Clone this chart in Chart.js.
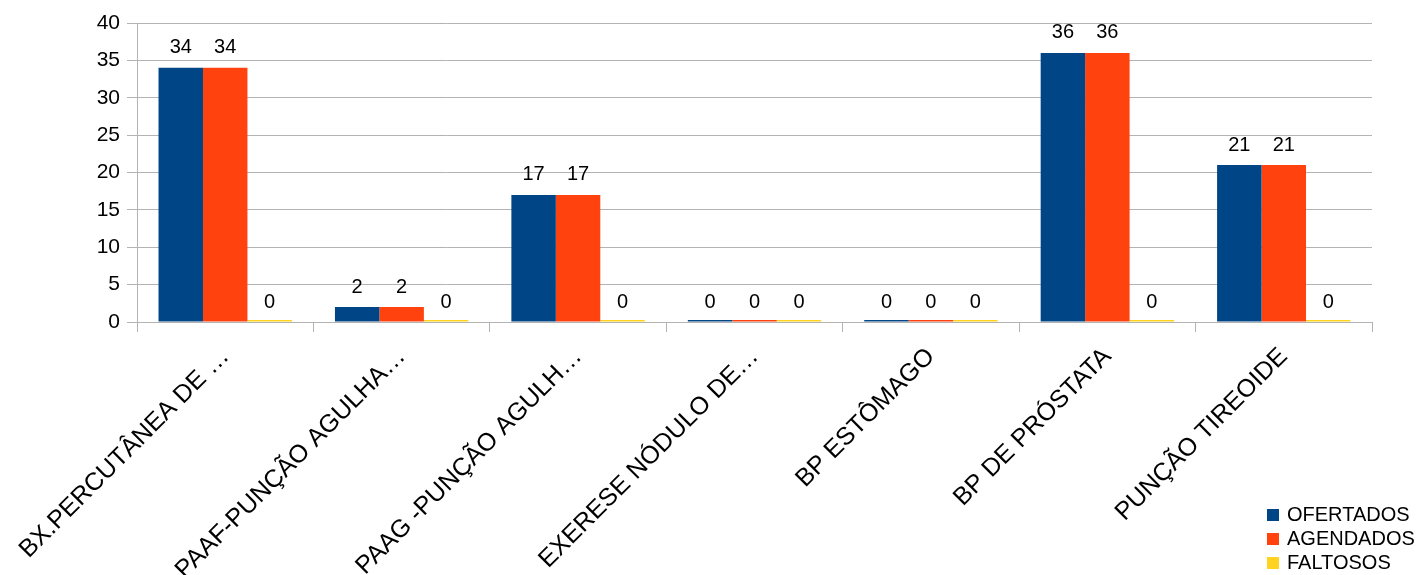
<!DOCTYPE html>
<html>
<head>
<meta charset="utf-8">
<script src="https://cdn.jsdelivr.net/npm/chart.js@4/dist/chart.umd.min.js"></script>
<style>
  html, body { margin: 0; padding: 0; background: #fff; }
  #wrap { position: relative; width: 1420px; height: 575px; }
  #legend {
    position: absolute; left: 1267px; top: 502px;
    font-family: 'Liberation Sans', Arial, sans-serif; font-size: 20px; color: #000;
  }
  #legend div { height: 24px; line-height: 24px; white-space: nowrap; }
  #legend span { display: inline-block; width: 12px; height: 12px; margin-right: 8px; vertical-align: 0px; }
</style>
</head>
<body>
<div id="wrap">
  <canvas id="chart" width="1420" height="575"></canvas>
  <div id="legend"></div>
</div>
<script>
const categories = [
  'BX.PERCUTÂNEA DE …',
  'PAAF-PUNÇÃO AGULHA…',
  'PAAG -PUNÇÃO AGULH…',
  'EXERESE NÓDULO DE…',
  'BP ESTÔMAGO',
  'BP DE PRÓSTATA',
  'PUNÇÃO TIREOIDE'
]
const ofertados = [34, 2, 17, 0, 0, 36, 21]
const agendados = [34, 2, 17, 0, 0, 36, 21]
const faltosos = [0, 0, 0, 0, 0, 0, 0]
const seriesNames = ['OFERTADOS', 'AGENDADOS', 'FALTOSOS']
const seriesColors = ['#004586', '#ff420e', '#ffd320']

const fontFamily = "'Liberation Sans', Arial, sans-serif"
const gridGray = '#b3b3b3'

// value labels above each bar
const valueLabels = {
  id: 'valueLabels',
  afterDatasetsDraw (chart) {
    const ctx = chart.ctx
    ctx.save()
    ctx.font = '20px ' + fontFamily
    ctx.fillStyle = '#000'
    ctx.textAlign = 'center'
    ctx.textBaseline = 'bottom'
    chart.data.datasets.forEach((ds, i) => {
      chart.getDatasetMeta(i).data.forEach((bar, j) => {
        const y = chart.scales.y.getPixelForValue(ds.data[j])
        ctx.fillText(String(ds.data[j]), bar.x, y - 10)
      })
    })
    ctx.restore()
  }
}

const allSeries = [ofertados, agendados, faltosos]

const chart = new Chart(document.getElementById('chart'), {
  type: 'bar',
  data: {
    labels: categories,
    datasets: allSeries.map((values, i) => ({
      label: seriesNames[i],
      data: values,
      backgroundColor: seriesColors[i],
      borderWidth: 0,
      minBarLength: 2,
      categoryPercentage: 0.756,
      barPercentage: 1
    }))
  },
  options: {
    responsive: false,
    animation: false,
    layout: { padding: { top: 23, right: 48, left: 0, bottom: 0 } },
    plugins: {
      legend: { display: false },
      tooltip: { enabled: false }
    },
    scales: {
      x: {
        afterFit: (scale) => { scale.height = 253 },
        grid: {
          offset: true,
          color: (c) => c.index === categories.length ? gridGray : 'rgba(0,0,0,0)',
          tickColor: gridGray,
          tickLength: 10,
          lineWidth: 1
        },
        border: { color: gridGray },
        ticks: {
          autoSkip: false,
          maxRotation: 45,
          minRotation: 45,
          color: '#000',
          padding: 10,
          font: { family: fontFamily, size: 25 }
        }
      },
      y: {
        min: 0,
        max: 40,
        afterFit: (scale) => { scale.width = 137 },
        grid: { color: gridGray, tickColor: gridGray, tickLength: 10 },
        border: { color: gridGray },
        ticks: {
          stepSize: 5,
          color: '#000',
          padding: 7,
          font: { family: fontFamily, size: 21 }
        }
      }
    }
  },
  plugins: [valueLabels]
})

// legend built from the datasets
const $legend = document.getElementById('legend')
chart.data.datasets.forEach(ds => {
  const $row = document.createElement('div')
  const $box = document.createElement('span')
  $box.style.background = ds.backgroundColor
  $row.appendChild($box)
  $row.appendChild(document.createTextNode(ds.label))
  $legend.appendChild($row)
})
</script>
</body>
</html>
